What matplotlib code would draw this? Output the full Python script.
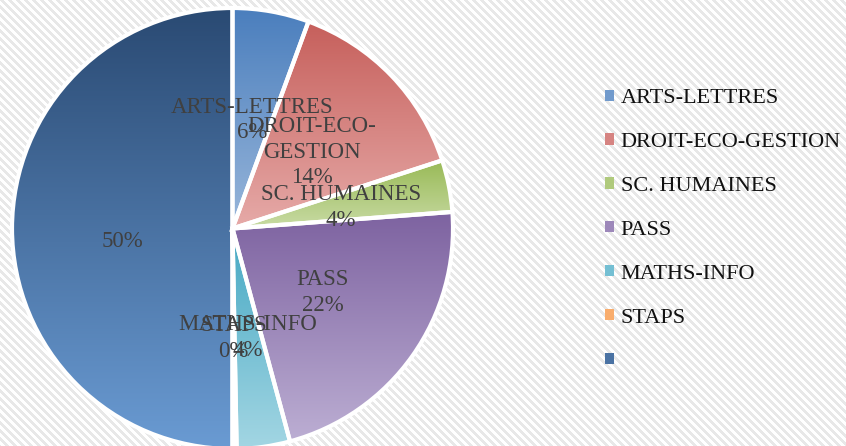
import numpy as np
import matplotlib
matplotlib.use("Agg")
import matplotlib.pyplot as plt
from matplotlib.patches import Rectangle
from matplotlib.colors import to_rgb

# data
categories = ["ARTS-LETTRES", "DROIT-ECO-GESTION", "SC. HUMAINES", "PASS",
              "MATHS-INFO", "STAPS", ""]
label_names = ["ARTS-LETTRES", "DROIT-ECO-\nGESTION", "SC. HUMAINES", "PASS",
               "MATHS-INFO", "STAPS", ""]
shares = [5.6, 14.4, 3.8, 22.0, 3.9, 0.3, 50.0]

# gradient colours (top, bottom) per slice
grad_top = ["#4a7ebd", "#c65f5b", "#98b955", "#7d62a0", "#45a8c3", "#f79646", "#2a4a73"]
grad_bot = ["#98b6da", "#e6aaa8", "#c8dba4", "#bcaed3", "#a3d6e3", "#fbc393", "#6a9bd3"]

plt.rcParams['font.family'] = ['Liberation Serif', 'DejaVu Serif']

W, H = 846, 446
fig = plt.figure(figsize=(W / 100, H / 100), dpi=100)

# striped background
bg = fig.add_axes([0, 0, 1, 1], zorder=-10)
yy, xx = np.mgrid[0:H, 0:W]
stripes = ((xx - yy) % 8) < 4
img = np.where(stripes[..., None], np.array(to_rgb("#e8e8e8")), np.array([1.0, 1.0, 1.0]))
bg.imshow(img, interpolation="nearest", aspect="auto")
bg.axis("off")

R = 220.5
cx, cy = 232.5, 228.5
ax = fig.add_axes([(cx - R) / W, (H - cy - R) / H, 2 * R / W, 2 * R / H])
wedges, _ = ax.pie(shares, startangle=90, counterclock=False, radius=1,
                   wedgeprops=dict(edgecolor="white", linewidth=3))

for w, ct, cb in zip(wedges, grad_top, grad_bot):
    ext = w.get_path().get_extents()
    t = np.linspace(0, 1, 256)[:, None, None]
    grad = (1 - t) * np.array(to_rgb(ct)) + t * np.array(to_rgb(cb))
    im = ax.imshow(grad, extent=(ext.x0, ext.x1, ext.y0, ext.y1), origin="upper",
                   aspect="auto", zorder=1, interpolation="bilinear")
    im.set_clip_path(w)
    w.set_facecolor("none")
    w.set_zorder(2)

for w, name, v in zip(wedges, label_names, shares):
    mid = np.deg2rad((w.theta1 + w.theta2) / 2)
    x, y = 0.5 * np.cos(mid), 0.5 * np.sin(mid)
    ax.text(x, y, f"{name}\n{v:.0f}%", ha="center", va="center", fontsize=16.5,
            color="#404040", linespacing=1.3, zorder=5)

ax.set_xlim(-1, 1)
ax.set_ylim(-1, 1)
ax.set_aspect("auto")
ax.axis("off")

handles = [Rectangle((0, 0), 1, 1, facecolor=ct, edgecolor="none") for ct in
           [(np.array(to_rgb(a)) + np.array(to_rgb(b))) / 2 for a, b in zip(grad_top, grad_bot)]]
fig.legend(handles, categories, loc="upper left", bbox_to_anchor=(594 / W, 1 - 78 / H),
           frameon=False, fontsize=16, handlelength=0.4, handleheight=0.4,
           handletextpad=0.3, labelspacing=1.12, borderpad=0, labelcolor="#111111")

fig.savefig("out.png", dpi=100)
